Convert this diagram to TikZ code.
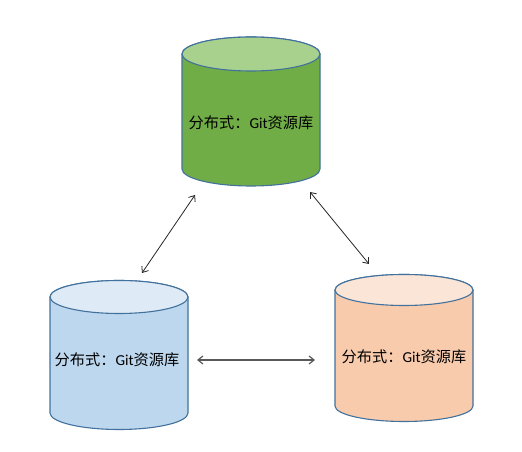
\documentclass[tikz,border=0pt]{standalone}
\usepackage{fontspec}
\newfontfamily\cjk{Noto Sans CJK SC}
\newfontfamily\carl{Carlito}
\usetikzlibrary{arrows.meta}
\definecolor{cylline}{HTML}{41719C}
\definecolor{gbody}{HTML}{70AD47}
\definecolor{gtop}{HTML}{A9D18E}
\definecolor{bbody}{HTML}{BDD7EE}
\definecolor{btop}{HTML}{DEEBF7}
\definecolor{obody}{HTML}{F8CBAD}
\definecolor{otop}{HTML}{FBE5D6}
\newcommand\mycyl[7]{%
  % #1 cx, #2 top cy, #3 bottom cy, #4 rx, #5 ry, #6 body, #7 top
  \path[cylstyle,fill=#6] (#1-#4,#2) -- (#1-#4,#3)
    arc[start angle=180,end angle=360,x radius=#4,y radius=#5]
    -- (#1+#4,#2)
    arc[start angle=0,end angle=180,x radius=#4,y radius=#5] -- cycle;
  \path[cylstyle,fill=#7] (#1,#2) ellipse[x radius=#4,y radius=#5];
}
\tikzset{
  cylstyle/.style={draw=cylline,line width=1.1pt},
  lbl/.style={font=\cjk\fontsize{15.2}{17}\selectfont,text=black,inner sep=0pt},
  link/.style={{Straight Barb[length=5pt,width=8pt]}-{Straight Barb[length=5pt,width=8pt]},line width=0.8pt,draw=black!85},
  hlink/.style={{Straight Barb[length=5pt,width=8pt]}-{Straight Barb[length=5pt,width=8pt]},line width=1.2pt,draw=black!65}
}
\begin{document}
\begin{tikzpicture}[x=1pt,y=1pt]
\useasboundingbox (0,0) rectangle (522,452);
\mycyl{251}{398}{283}{69}{17}{gbody}{gtop}
\mycyl{119}{155}{39}{69}{16.5}{bbody}{btop}
\mycyl{404}{162}{46}{69}{15.5}{obody}{otop}
\node[lbl] (tg) at (251,329) {分布式：{\carl Git}资源库};
\node[lbl] (tb) at (117,92) {分布式：{\carl Git}资源库};
\node[lbl] (to) at (404,95) {分布式：{\carl Git}资源库};
\coordinate (a1) at (195,257);
\coordinate (a2) at (142,179);
\coordinate (b1) at (310,260);
\coordinate (b2) at (369,188);
\coordinate (c1) at (197,92);
\coordinate (c2) at (315,92);
\draw[link] (a1) -- (a2);
\draw[link] (b1) -- (b2);
\draw[hlink] (c1) -- (c2);
\end{tikzpicture}
\end{document}
